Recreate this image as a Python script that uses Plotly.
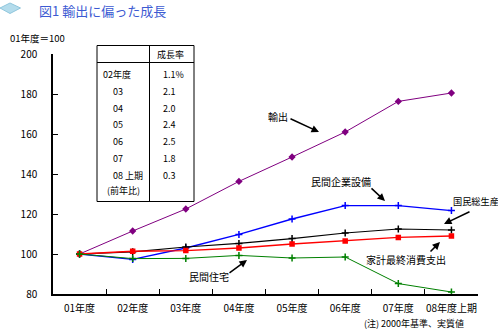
import plotly.graph_objects as go

# ---- data ----
categories = ["01年度", "02年度", "03年度", "04年度", "05年度", "06年度", "07年度", "08年度上期"]
export = [100, 111.5, 122.5, 136.3, 148.5, 161.0, 176.3, 180.5]
capex = [100, 97.3, 103.0, 109.8, 117.5, 124.2, 124.2, 121.7]
gdp = [100, 101.1, 103.5, 105.3, 107.7, 110.5, 112.5, 112.0]
consumption = [100, 101.4, 101.7, 103.0, 105.0, 106.5, 108.3, 109.0]
housing = [100, 97.7, 97.8, 99.3, 98.0, 98.5, 85.2, 81.0]
y_ticks = [80, 100, 120, 140, 160, 180, 200]
table_rows = ["02年度", "03", "04", "05", "06", "07", "08 上期"]
table_growth = ["1.1%", "2.1", "2.0", "2.4", "2.5", "1.8", "0.3"]

W, H = 498, 331
L, R, T, B = 53, 478, 54, 294
FONT = "Noto Sans CJK JP"


def px(x):
    return (x - L) / (R - L)


def py(y):
    return (B - y) / (B - T)


fig = go.Figure()
series = [
    (export, "#800080", "diamond", 4, 1),
    (capex, "#0000ff", "cross-thin-open", 5, 1.4),
    (gdp, "#000000", "cross-thin-open", 5, 1.2),
    (consumption, "#ff0000", "square", 4, 1.4),
    (housing, "#008000", "cross-thin-open", 5, 1),
]
for vals, col, sym, sz, lw in series:
    fig.add_trace(go.Scatter(
        x=categories, y=vals, mode="lines+markers",
        line=dict(color=col, width=lw),
        marker=dict(color=col, symbol=sym, size=sz, line=dict(color=col, width=1.5)),
        showlegend=False, hoverinfo="skip"))

ann = []
shapes = []


def text(x, y, s, size=10, anchor="left", color="black"):
    ann.append(dict(x=px(x), y=py(y), xref="paper", yref="paper", text=s, showarrow=False,
                    xanchor=anchor, yanchor="middle", font=dict(family=FONT, size=size, color=color)))


def arrow(x0, y0, x1, y1):
    ann.append(dict(x=px(x1), y=py(y1), xref="paper", yref="paper", ax=x0 - x1, ay=y0 - y1,
                    axref="pixel", ayref="pixel", text="", showarrow=True,
                    arrowhead=2, arrowsize=1, arrowwidth=1.5, arrowcolor="black"))

# title
shapes.append(dict(type="path", xref="paper", yref="paper",
                   path=f"M {px(0)} {py(8)} L {px(10)} {py(3)} L {px(20.5)} {py(8)} L {px(10)} {py(13.5)} Z",
                   fillcolor="#b4dcec", line=dict(color="#8fc6dc", width=1)))
text(37, 10, "図1 輸出に偏った成長", size=13, color="#3c5ad2")
text(8, 38, "01年度＝100", size=9.5)

# table
shapes.append(dict(type="rect", xref="paper", yref="paper", x0=px(97), x1=px(194), y0=py(45.5), y1=py(201.5),
                   line=dict(color="black", width=1)))
shapes.append(dict(type="line", xref="paper", yref="paper", x0=px(97), x1=px(194), y0=py(62.5), y1=py(62.5),
                   line=dict(color="black", width=1)))
shapes.append(dict(type="line", xref="paper", yref="paper", x0=px(149.5), x1=px(149.5), y0=py(45.5), y1=py(201.5),
                   line=dict(color="black", width=1)))
text(170.5, 54, "成長率", size=9, anchor="center")
for i, (r, g) in enumerate(zip(table_rows, table_growth)):
    yy = 74.2 + 16.9 * i
    text(101 if i == 0 else 111, yy, r, size=9)
    text(161, yy, g, size=9)
text(105, 190, "(前年比)", size=9)

# series labels + arrows
text(266, 117, "輸出")
arrow(289, 118, 319, 132)
text(309, 181, "民間企業設備")
arrow(370, 187, 385, 201)
text(451, 201, "国民総生産", size=9.2)
arrow(471, 211, 444, 224)
text(364, 259, "家計最終消費支出")
arrow(429, 253, 440, 242)
text(187, 276, "民間住宅")
arrow(228, 274, 247, 260)

text(362, 323.5, "(注) 2000年基準、実質値", size=9)

fig.update_layout(
    width=W, height=H, margin=dict(l=L, r=W - R, t=T, b=H - B),
    paper_bgcolor="white", plot_bgcolor="white",
    font=dict(family=FONT, size=10, color="black"),
    annotations=ann, shapes=shapes,
    xaxis=dict(type="category", range=[-0.5, 7.5], tickson="boundaries", ticks="inside", ticklen=5,
               tickcolor="black", showline=True, linecolor="black", linewidth=1.5, showgrid=False,
               zeroline=False, tickangle=0, tickfont=dict(size=10, family=FONT), ticklabelstandoff=4),
    yaxis=dict(range=[80, 200], tickvals=y_ticks, ticks="inside", ticklen=5, tickcolor="black",
               showline=True, linecolor="black", linewidth=1.5, showgrid=False, zeroline=False,
               tickfont=dict(size=10, family=FONT), ticklabelstandoff=12),
)
fig.write_html("out.html")
